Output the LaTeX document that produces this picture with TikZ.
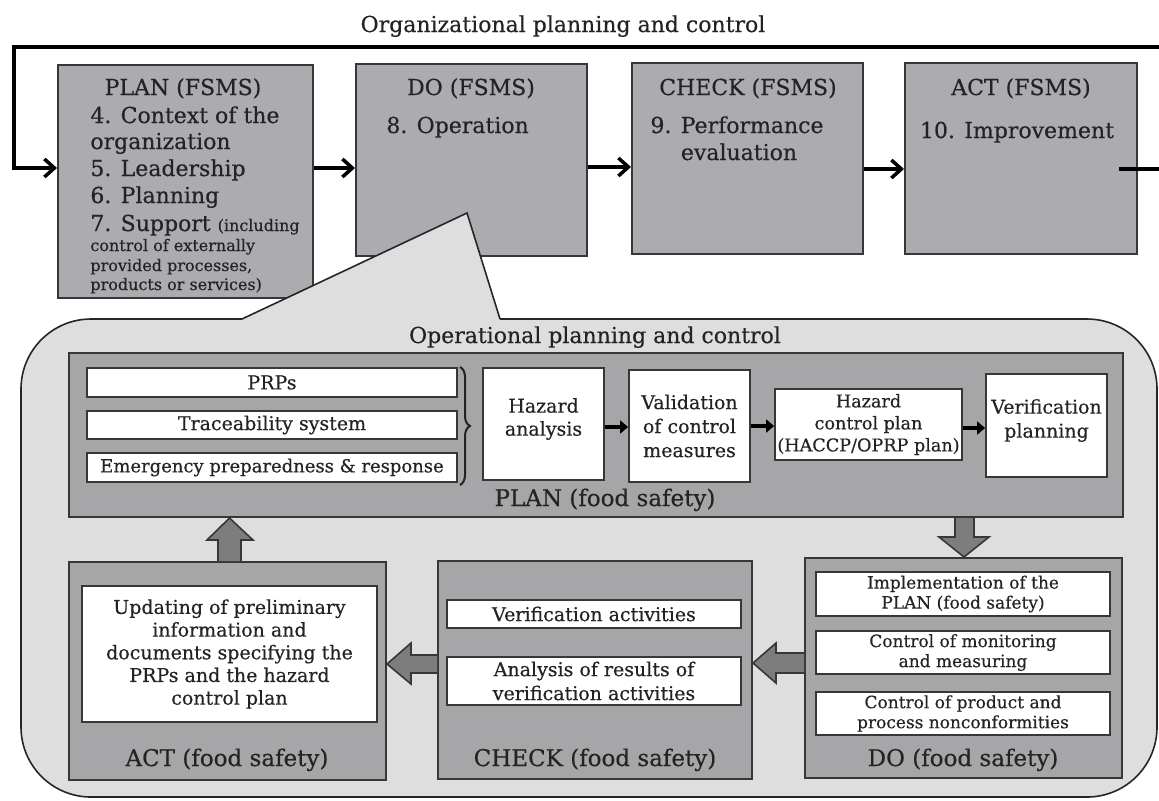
\documentclass[tikz,border=0pt]{standalone}
\usepackage{fontspec}
\setmainfont{DejaVu Serif}[FakeBold=0.4]
\usetikzlibrary{arrows.meta,fit,decorations.pathreplacing,calc}
\definecolor{topfill}{RGB}{172,172,176}
\definecolor{regfill}{RGB}{222,222,222}
\definecolor{infill}{RGB}{166,166,168}
\definecolor{bordc}{RGB}{55,55,55}
\definecolor{blockc}{RGB}{125,125,125}
\definecolor{txt}{RGB}{35,35,35}
\begin{document}
\begin{tikzpicture}[x=0.5pt,y=-0.5pt,
  topbox/.style={draw=bordc, line width=1pt, fill=topfill, inner sep=0pt},
  graybox/.style={draw=bordc, line width=1pt, fill=infill, inner sep=0pt},
  whitebox/.style={draw=bordc, line width=0.9pt, fill=white, inner sep=0pt},
  intxt/.style={inner sep=0pt, align=center, text=txt},
  flowarr/.style={line width=1.75pt, -{Straight Barb[length=5pt,width=9pt]}},
  flowline/.style={line width=1.75pt},
  smallarr/.style={line width=2.2pt, -{Triangle[length=4pt,width=6.5pt]}},
  blockarr/.style={draw=bordc, line width=0.8pt, fill=blockc},
  regline/.style={draw=black!85, line width=0.8pt},
  lbl/.style={inner sep=0pt, text=txt},
  big/.style={lbl, font=\fontsize{11}{13.25}\selectfont},
  sml/.style={lbl, font=\fontsize{8}{9.5}\selectfont},
  hdr/.style={lbl, font=\fontsize{11.5}{13.5}\selectfont},
  mid/.style={intxt, font=\fontsize{9.5}{11.5}\selectfont},
  midb/.style={intxt, font=\fontsize{9.5}{12}\selectfont},
  mids/.style={intxt, font=\fontsize{8.8}{11}\selectfont},
  tiny/.style={intxt, font=\fontsize{8.5}{10}\selectfont}
]
\useasboundingbox (0,0) rectangle (1159,800);

% ---------- top row (FSMS) ----------
\node[big, anchor=base] (title) at (563,32) {Organizational planning and control};

\node[topbox, fit={(58,65) (313,298)}] (planF) {};
\node[topbox, fit={(356,64) (587,256)}] (doF) {};
\node[topbox, fit={(632,63) (863,254)}] (checkF) {};
\node[topbox, fit={(905,63) (1137,254)}] (actF) {};

\coordinate (loopR) at (1159,47);
\coordinate (loopL) at (14,47);
\draw[flowarr] (loopR) -- (loopL) |- (planF.west |- 0,168);
\draw[flowarr] (planF.east |- 0,168) -- (doF.west |- 0,168);
\draw[flowarr] (doF.east |- 0,167) -- (checkF.west |- 0,167);
\draw[flowarr] (checkF.east |- 0,169) -- (actF.west |- 0,169);
\coordinate (outL) at (1119,169);
\coordinate (outR) at (1159,169);
\draw[flowline] (outL) -- (outR);

% ---------- operational region with callout ----------
\fill[regfill, rounded corners=35pt] (21,319) rectangle (1157,797);
\fill[regfill] (242,320) -- (467,213) -- (500,320) -- cycle;
\draw[regline, rounded corners=35pt] (242,319) -- (21,319) -- (21,797) -- (1157,797) -- (1157,319) -- (500,319);
\draw[regline] (242,319) -- (467,213) -- (500,319);

% top texts
\node[big, anchor=base] (planFt) at (183,95) {PLAN (FSMS)};
\node[big, anchor=base west] (p4) at (90,123) {4. Context of the};
\node[big, anchor=base west] (p4b) at (90,149) {organization};
\node[big, anchor=base west] (p5) at (90,176) {5. Leadership};
\node[big, anchor=base west] (p6) at (90,203) {6. Planning};
\node[big, anchor=base west] (p7) at (90,231) {7. Support {\fontsize{8}{9.5}\selectfont(including}};
\node[sml, anchor=base west] (p7b) at (90,251) {control of externally};
\node[sml, anchor=base west] (p7c) at (90,271) {provided processes,};
\node[sml, anchor=base west] (p7d) at (90,290) {products or services)};

\node[big, anchor=base] (doFt) at (471,95) {DO (FSMS)};
\node[big, anchor=base west] (d8) at (386,133) {8. Operation};

\node[big, anchor=base] (checkFt) at (748,95) {CHECK (FSMS)};
\node[big, anchor=base] (c9) at (737,133) {9. Performance};
\node[big, anchor=base] (c9b) at (739,160) {evaluation};

\node[big, anchor=base] (actFt) at (1021,95) {ACT (FSMS)};
\node[big, anchor=base] (a10) at (1017,138) {10. Improvement};

\node[big, anchor=base] (opt) at (595,343) {Operational planning and control};

% ---------- PLAN (food safety) ----------
\node[graybox, fit={(69,353) (1123,517)}] (planFS) {};
\node[whitebox, fit={(87,368) (457,397)}] (prps) {};
\node[mid] (prpsT) at (prps.center) {PRPs};
\node[whitebox, fit={(87,411) (457,439)}] (trace) {};
\node[mid] (traceT) at (trace.center) {Traceability system};
\node[whitebox, fit={(87,453) (457,482)}] (emerg) {};
\node[intxt, font=\fontsize{9}{11}\selectfont] (emergT) at (emerg.center) {Emergency preparedness \& response};
\coordinate (braceT) at (460,367);
\coordinate (braceB) at (460,485);
\draw[decorate, decoration={brace, amplitude=5pt}, line width=1pt, draw=txt] (braceT) -- (braceB);
\node[whitebox, fit={(483,368) (604,480)}] (hazard) {};
\node[mid] (hazardT) at ($(hazard.center)+(0,-5)$) {Hazard\\analysis};
\node[whitebox, fit={(629,370) (750,482)}] (valid) {};
\node[midb] (validT) at (valid.center) {Validation\\of control\\measures};
\node[whitebox, fit={(775,389) (962,460)}] (hcp) {};
\node[mids] (hcpT) at (hcp.center) {Hazard\\control plan\\(HACCP/OPRP plan)};
\node[whitebox, fit={(986,374) (1107,477)}] (verp) {};
\node[midb] (verpT) at ($(verp.center)+(0,-5)$) {Verification\\planning};
\draw[smallarr] (hazard.east |- 0,427) -- (valid.west |- 0,427);
\draw[smallarr] (valid.east |- 0,426) -- (hcp.west |- 0,426);
\draw[smallarr] (hcp.east |- 0,428) -- (verp.west |- 0,428);
\node[hdr, anchor=base] (planFSt) at (605,506) {PLAN (food safety)};

% ---------- DO (food safety) ----------
\node[graybox, fit={(805,558) (1122,778)}] (doFS) {};
\node[whitebox, fit={(816,572) (1110,616)}] (impl) {};
\node[tiny] (implT) at (impl.center) {Implementation of the\\PLAN (food safety)};
\node[whitebox, fit={(816,631) (1110,674)}] (ctrlm) {};
\node[tiny] (ctrlmT) at (ctrlm.center) {Control of monitoring\\and measuring};
\node[whitebox, fit={(816,692) (1110,735)}] (ctrlp) {};
\node[tiny] (ctrlpT) at (ctrlp.center) {Control of product and\\process nonconformities};
\node[hdr, anchor=base] (doFSt) at (963,766) {DO (food safety)};

% ---------- CHECK (food safety) ----------
\node[graybox, fit={(438,561) (752,779)}] (checkFS) {};
\node[whitebox, fit={(447,600) (741,628)}] (veract) {};
\node[midb] (veractT) at (veract.center) {Verification activities};
\node[whitebox, fit={(447,657) (741,705)}] (anal) {};
\node[midb] (analT) at (anal.center) {Analysis of results of\\verification activities};
\node[hdr, anchor=base] (checkFSt) at (595,766) {CHECK (food safety)};

% ---------- ACT (food safety) ----------
\node[graybox, fit={(69,562) (386,780)}] (actFS) {};
\node[whitebox, fit={(82,586) (377,722)}] (upd) {};
\node[intxt, font=\fontsize{9.5}{11.35}\selectfont] (updT) at (upd.center) {Updating of preliminary\\information and\\documents specifying the\\PRPs and the hazard\\control plan};
\node[hdr, anchor=base] (actFSt) at (227,766) {ACT (food safety)};

% ---------- block arrows ----------
\filldraw[blockarr] (actFS.north -| 218,0) -- (218,540) -- (207,540) -- (planFS.south -| 229.5,0) -- (253,540) -- (241,540) -- (actFS.north -| 241,0);
\filldraw[blockarr] (planFS.south -| 955,0) -- (955,537) -- (939,537) -- (doFS.north -| 964,0) -- (989,537) -- (974,537) -- (planFS.south -| 974,0);
\filldraw[blockarr] (doFS.west |- 0,653) -- (776,653) -- (776,643) -- (checkFS.east |- 0,663) -- (776,683) -- (776,673) -- (doFS.west |- 0,673);
\filldraw[blockarr] (checkFS.west |- 0,655) -- (411,655) -- (411,643) -- (actFS.east |- 0,664) -- (411,684) -- (411,673) -- (checkFS.west |- 0,673);
\end{tikzpicture}
\end{document}
